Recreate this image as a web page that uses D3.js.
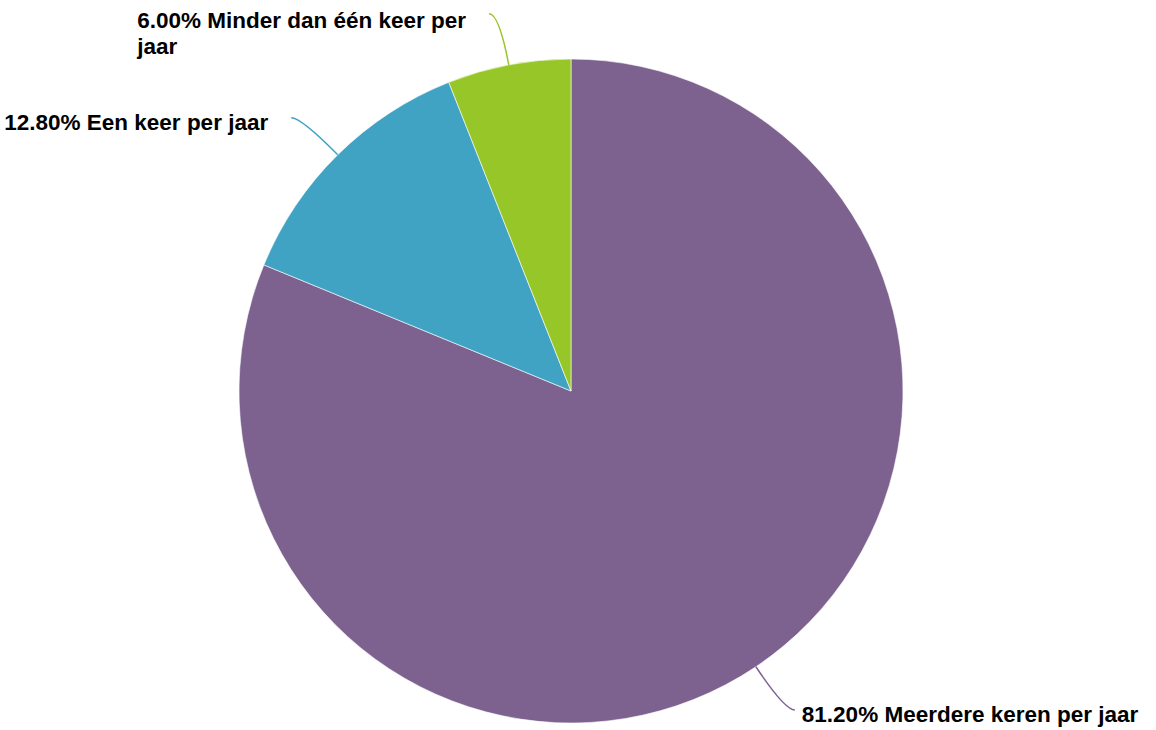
<!DOCTYPE html>
<html>
<head>
<meta charset="utf-8">
<script src="https://cdn.jsdelivr.net/npm/d3@7"></script>
<style>
  html, body { margin: 0; padding: 0; background: #fff; }
  svg { display: block; }
  text { font-family: "Liberation Sans", Arial, Helvetica, sans-serif; font-weight: bold; fill: #000; }
</style>
</head>
<body>
<svg id="chart" width="1156" height="730"></svg>
<script>
const categories = ["Meerdere keren per jaar", "Een keer per jaar", "Minder dan één keer per jaar"];
const values = [81.2, 12.8, 6.0];
const colors = ["#7d618f", "#41a3c3", "#96c628"];

const W = 1156, H = 730;
const cx = 571, cy = 391, R = 332;
const fontSize = 22.5, lineH = 26;

const svg = d3.select("#chart");
const g = svg.append("g").attr("transform", `translate(${cx},${cy})`);

const pie = d3.pie().sort(null).value(d => d.value);
const data = categories.map((c, i) => ({ name: c, value: values[i], color: colors[i] }));
const arcs = pie(data);
const arc = d3.arc().innerRadius(0).outerRadius(R);

g.selectAll("path.slice").data(arcs).enter().append("path")
  .attr("class", "slice")
  .attr("d", arc)
  .attr("fill", d => d.data.color)
  .attr("stroke", "#ffffff")
  .attr("stroke-width", 0.6);

const fmt = d3.format(".2f");
arcs.forEach(a => {
  const mid = (a.startAngle + a.endAngle) / 2;
  const sx = Math.sin(mid), sy = -Math.cos(mid);
  const p0 = [R * sx, R * sy];
  const p1 = [(R + 52) * sx, (R + 52) * sy];
  const right = sx >= 0;
  const p2 = [p1[0] + (right ? 10 : -10), p1[1]];
  const path = d3.path();
  path.moveTo(p0[0], p0[1]);
  path.quadraticCurveTo(p1[0], p1[1], p2[0], p2[1]);
  g.append("path").attr("d", path.toString())
    .attr("fill", "none").attr("stroke", a.data.color).attr("stroke-width", 1.5);

  const label = fmt(a.data.value) + "% " + a.data.name;
  const maxW = 340;
  const t = g.append("text").attr("font-size", fontSize);
  const words = label.split(" ");
  let lines = [], cur = [];
  const measure = s => { t.text(s); return t.node().getComputedTextLength(); };
  words.forEach(w => {
    const test = cur.concat([w]).join(" ");
    if (cur.length && measure(test) > maxW) { lines.push(cur.join(" ")); cur = [w]; }
    else cur.push(w);
  });
  lines.push(cur.join(" "));
  const widths = lines.map(measure);
  t.text(null);
  const bw = Math.max(...widths);
  const gap = right ? 7 : 23;
  const x0 = right ? p2[0] + gap : p2[0] - gap - bw;
  let top = p2[1] - (lines.length * lineH) / 2 + 4;
  if (top + cy < 7) top = 7 - cy;
  lines.forEach((ln, i) => {
    t.append("tspan").attr("x", x0).attr("y", top + i * lineH + 21).text(ln);
  });
});
</script>
</body>
</html>
